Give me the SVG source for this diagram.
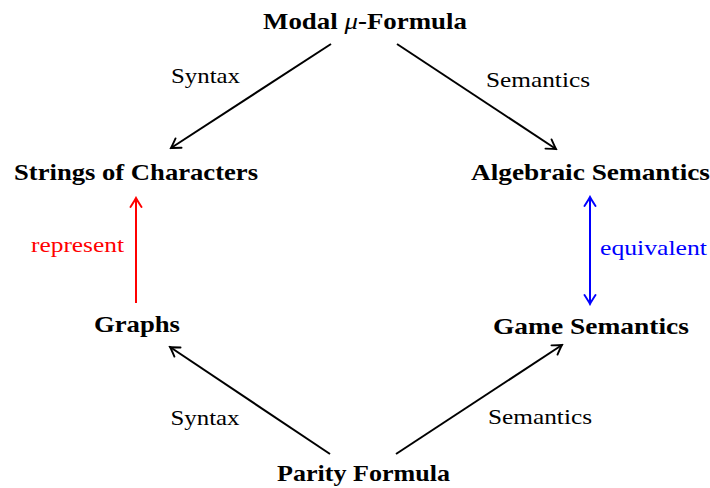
<svg xmlns="http://www.w3.org/2000/svg" width="710" height="488" viewBox="0 0 710 488">
<defs>
<style>
.node{font-family:"Liberation Serif","DejaVu Serif",serif;font-weight:bold;font-size:23px;fill:#000;text-anchor:middle}
.lbl{font-family:"Liberation Serif","DejaVu Serif",serif;font-size:21px;text-anchor:middle}
.e{fill:none;stroke-width:2}
</style>
<marker id="ak" viewBox="-11 -7 13 14" refX="0" refY="0" markerWidth="13" markerHeight="14" markerUnits="userSpaceOnUse" orient="auto-start-reverse">
<path d="M-9,-5.5 Q-2,-1 0,0 Q-2,1 -9,5.5" fill="none" stroke="#000" stroke-width="1.9" stroke-linecap="round"/>
</marker>
<marker id="ar" viewBox="-11 -7 13 14" refX="0" refY="0" markerWidth="13" markerHeight="14" markerUnits="userSpaceOnUse" orient="auto-start-reverse">
<path d="M-9,-5.5 Q-2,-1 0,0 Q-2,1 -9,5.5" fill="none" stroke="#f00" stroke-width="1.9" stroke-linecap="round"/>
</marker>
<marker id="ab" viewBox="-11 -7 13 14" refX="0" refY="0" markerWidth="13" markerHeight="14" markerUnits="userSpaceOnUse" orient="auto-start-reverse">
<path d="M-9,-5.5 Q-2,-1 0,0 Q-2,1 -9,5.5" fill="none" stroke="#00f" stroke-width="1.9" stroke-linecap="round"/>
</marker>
</defs>
<rect width="710" height="488" fill="#fff"/>
<g id="connectors">
<line class="e" x1="331" y1="44" x2="171" y2="148" stroke="#000" marker-end="url(#ak)"/>
<line class="e" x1="397" y1="44" x2="556" y2="149" stroke="#000" marker-end="url(#ak)"/>
<line class="e" x1="136" y1="303" x2="136" y2="198" stroke="#f00" marker-end="url(#ar)"/>
<line class="e" x1="590" y1="197" x2="590" y2="304" stroke="#00f" marker-start="url(#ab)" marker-end="url(#ab)"/>
<line class="e" x1="330" y1="454" x2="170" y2="347" stroke="#000" marker-end="url(#ak)"/>
<line class="e" x1="396" y1="454" x2="562" y2="345" stroke="#000" marker-end="url(#ak)"/>
<text class="lbl" x="205.5" y="83" fill="#000" textLength="69" lengthAdjust="spacingAndGlyphs">Syntax</text>
<text class="lbl" x="538" y="87" fill="#000" textLength="104" lengthAdjust="spacingAndGlyphs">Semantics</text>
<text class="lbl" x="77.5" y="252" fill="#f00" textLength="93" lengthAdjust="spacingAndGlyphs">represent</text>
<text class="lbl" x="653.5" y="255" fill="#00f" textLength="107" lengthAdjust="spacingAndGlyphs">equivalent</text>
<text class="lbl" x="205" y="425" fill="#000" textLength="69" lengthAdjust="spacingAndGlyphs">Syntax</text>
<text class="lbl" x="540" y="424" fill="#000" textLength="104" lengthAdjust="spacingAndGlyphs">Semantics</text>
</g>
<g id="modal"><text class="node" x="365" y="29" textLength="204" lengthAdjust="spacingAndGlyphs">Modal <tspan font-style="italic" font-weight="normal">μ</tspan>-Formula</text></g>
<g id="strings"><text class="node" x="136" y="180" textLength="244" lengthAdjust="spacingAndGlyphs">Strings of Characters</text></g>
<g id="algebraic"><text class="node" x="590.5" y="180" textLength="239" lengthAdjust="spacingAndGlyphs">Algebraic Semantics</text></g>
<g id="graphs"><text class="node" x="137" y="332" textLength="86" lengthAdjust="spacingAndGlyphs">Graphs</text></g>
<g id="game"><text class="node" x="591" y="334" textLength="196" lengthAdjust="spacingAndGlyphs">Game Semantics</text></g>
<g id="parity"><text class="node" x="363.5" y="481" textLength="173" lengthAdjust="spacingAndGlyphs">Parity Formula</text></g>
</svg>
